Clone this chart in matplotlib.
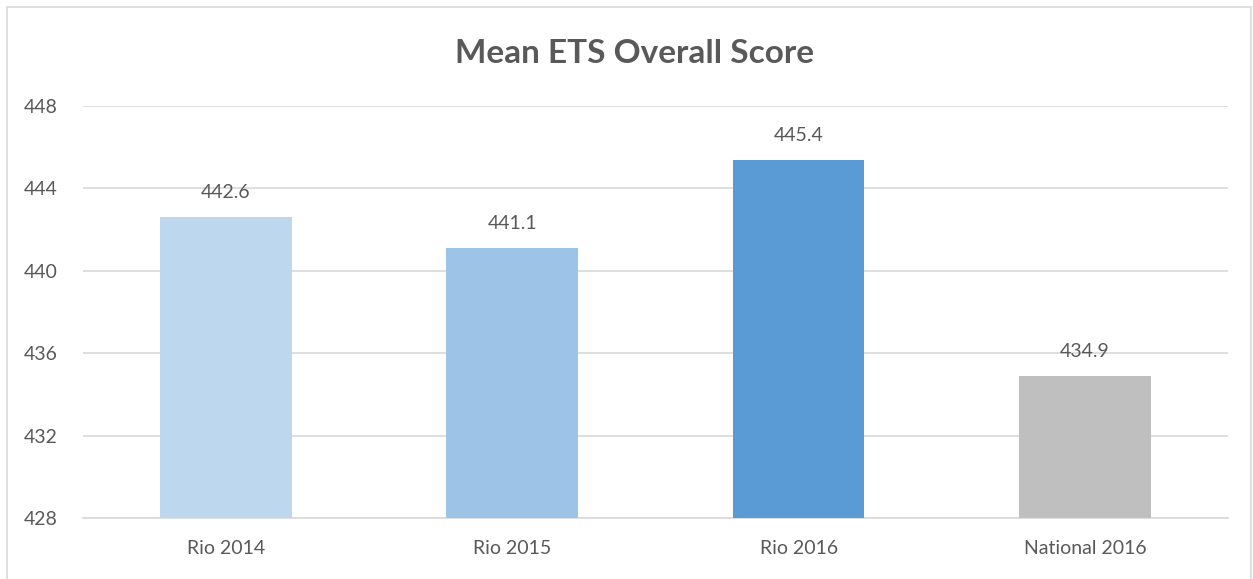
import matplotlib.pyplot as plt
from matplotlib.patches import Rectangle

categories = ["Rio 2014", "Rio 2015", "Rio 2016", "National 2016"]
scores = [442.6, 441.1, 445.4, 434.9]
bar_colors = ["#BDD7EE", "#9DC3E6", "#5B9BD5", "#BFBFBF"]
y_ticks = [428, 432, 436, 440, 444, 448]

plt.rcParams['font.family'] = ['Lato', 'DejaVu Sans']
text_color = "#595959"

fig = plt.figure(figsize=(12.53, 5.79), dpi=100)
ax = fig.add_axes([0.0662, 0.1054, 0.9138, 0.7116])

x = range(len(categories))
ax.bar(x, [s - y_ticks[0] for s in scores], bottom=y_ticks[0], width=0.46,
       color=bar_colors, zorder=3)

for i, s in enumerate(scores):
    ax.annotate(f"{s:.1f}", (i, s), xytext=(0, 11.5), textcoords="offset points",
                ha="center", va="bottom", fontsize=14, color=text_color)

ax.set_xlim(-0.5, 3.5)
ax.set_ylim(428, 448)
ax.set_yticks(y_ticks)
ax.set_xticks(list(x))
ax.set_xticklabels(categories)
ax.grid(axis="y", color="#D9D9D9", linewidth=1.2, zorder=0)
for side in ["top", "right", "left"]:
    ax.spines[side].set_visible(False)
ax.spines["bottom"].set_color("#D9D9D9")
ax.spines["bottom"].set_linewidth(1.2)
ax.tick_params(axis="both", length=0, labelsize=14, labelcolor=text_color)
ax.tick_params(axis="x", pad=16)
ax.tick_params(axis="y", pad=18)

fig.text(0.506, 0.908, "Mean ETS Overall Score", ha="center", va="center",
         fontsize=24, fontweight="bold", color=text_color)

# chart border
fig.patches.append(Rectangle((7 / 1253, -0.05), 1244 / 1253, 1.05 - 7 / 579,
                             transform=fig.transFigure, fill=False,
                             edgecolor="#D9D9D9", linewidth=1.2))

fig.savefig("out.png", dpi=100)
